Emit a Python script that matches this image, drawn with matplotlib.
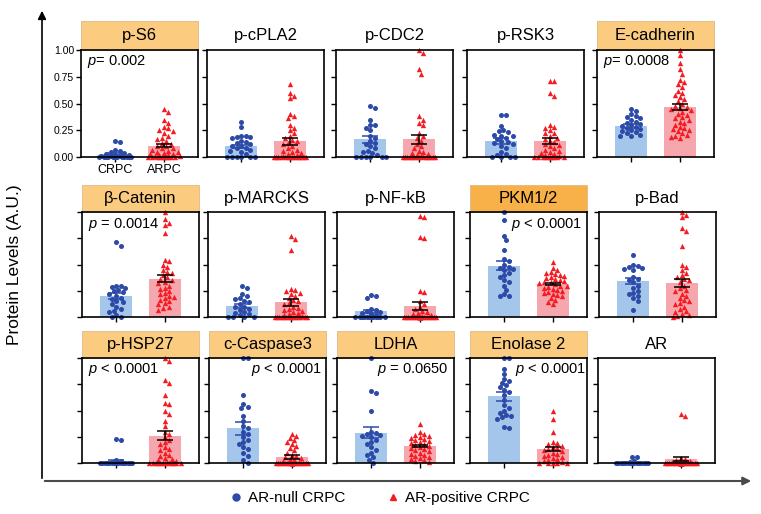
import numpy as np
import matplotlib
matplotlib.use('Agg')
import matplotlib.pyplot as plt
from matplotlib.patches import Rectangle
from matplotlib.lines import Line2D

plt.rcParams['font.family'] = ['Liberation Sans', 'DejaVu Sans']
plt.rcParams['mathtext.fontset'] = 'custom'
plt.rcParams['mathtext.it'] = 'Liberation Sans:italic'
plt.rcParams['mathtext.rm'] = 'Liberation Sans'

# ---------------- data ----------------
titles = ['p-S6', 'p-cPLA2', 'p-CDC2', 'p-RSK3', 'E-cadherin',
          'β-Catenin', 'p-MARCKS', 'p-NF-kB', 'PKM1/2', 'p-Bad',
          'p-HSP27', 'c-Caspase3', 'LDHA', 'Enolase 2', 'AR']
highlight = [1, 0, 0, 0, 1,
             1, 0, 0, 2, 0,
             1, 1, 1, 1, 0]
pvalue_labels = [r'$\it{p}$= 0.002', '', '', '', r'$\it{p}$= 0.0008',
                 r'$\it{p}$ = 0.0014', '', '', r'$\it{p}$ < 0.0001', '',
                 r'$\it{p}$ < 0.0001', r'$\it{p}$ < 0.0001', r'$\it{p}$ = 0.0650', r'$\it{p}$ < 0.0001', '']
group_labels = ['CRPC', 'ARPC']
legend_labels = ['AR-null CRPC', 'AR-positive CRPC']
y_ticks = [0.0, 0.25, 0.5, 0.75, 1.0]
y_ticklabels = ['0.00', '0.25', '0.50', '0.75', '1.00']

null_pS6 = [0.15, 0.14, 0.07, 0.06, 0.05, 0.04, 0.03, 0.02, 0.02, 0.01, 0.01, 0.01,
            0, 0, 0, 0, 0, 0, 0, 0, 0, 0, 0, 0]
pos_pS6 = [0.45, 0.42, 0.35, 0.32, 0.28, 0.27, 0.25, 0.24, 0.22, 0.20, 0.18, 0.17, 0.15,
           0.13, 0.12, 0.10, 0.10, 0.08, 0.08, 0.07, 0.06, 0.05, 0.05, 0.04, 0.03, 0.03,
           0.02, 0.02, 0.01, 0.01, 0, 0, 0, 0, 0, 0, 0, 0, 0, 0]
null_cPLA2 = [0.33, 0.28, 0.20, 0.20, 0.19, 0.19, 0.18, 0.15, 0.14, 0.13, 0.12, 0.10, 0.10,
              0.08, 0.08, 0.07, 0.06, 0.05, 0.03, 0, 0, 0, 0, 0, 0]
pos_cPLA2 = [0.68, 0.60, 0.57, 0.55, 0.40, 0.38, 0.36, 0.30, 0.27, 0.25, 0.22, 0.20, 0.18,
             0.16, 0.15, 0.13, 0.12, 0.10, 0.08, 0.07, 0.06, 0.05, 0.04, 0.03, 0.02, 0.01,
             0, 0, 0, 0, 0, 0, 0, 0, 0, 0, 0, 0, 0, 0]
null_CDC2 = [0.48, 0.46, 0.35, 0.30, 0.30, 0.27, 0.25, 0.20, 0.18, 0.15, 0.13, 0.12, 0.10,
             0.08, 0.06, 0.05, 0.04, 0.02, 0, 0, 0, 0, 0, 0]
pos_CDC2 = [1.0, 0.97, 0.82, 0.78, 0.38, 0.35, 0.32, 0.30, 0.22, 0.20, 0.18, 0.15, 0.12,
            0.10, 0.08, 0.06, 0.05, 0.04, 0.03, 0.02, 0.01,
            0, 0, 0, 0, 0, 0, 0, 0, 0, 0, 0, 0, 0, 0]
null_RSK3 = [0.39, 0.39, 0.29, 0.25, 0.24, 0.23, 0.21, 0.20, 0.20, 0.18, 0.17, 0.15, 0.14,
             0.13, 0.12, 0.10, 0.08, 0.05, 0.03, 0.02, 0, 0, 0, 0]
pos_RSK3 = [0.71, 0.71, 0.60, 0.57, 0.30, 0.28, 0.27, 0.25, 0.22, 0.22, 0.20, 0.18, 0.17,
            0.15, 0.14, 0.12, 0.11, 0.10, 0.08, 0.07, 0.06, 0.05, 0.04, 0.03, 0.02, 0.01,
            0, 0, 0, 0, 0, 0, 0, 0, 0, 0]
null_Ecad = [0.45, 0.43, 0.40, 0.38, 0.37, 0.36, 0.35, 0.33, 0.32, 0.31, 0.30, 0.29, 0.28,
             0.27, 0.26, 0.25, 0.24, 0.23, 0.22, 0.21, 0.20, 0.20]
pos_Ecad = [1.0, 0.95, 0.88, 0.82, 0.78, 0.72, 0.70, 0.68, 0.65, 0.62, 0.60, 0.58, 0.56,
            0.54, 0.52, 0.50, 0.48, 0.47, 0.46, 0.45, 0.44, 0.42, 0.40, 0.39, 0.37, 0.36,
            0.35, 0.33, 0.32, 0.30, 0.28, 0.27, 0.26, 0.25, 0.24, 0.22, 0.21, 0.20, 0.19, 0.18]
null_bCat = [0.71, 0.68, 0.30, 0.30, 0.29, 0.28, 0.26, 0.25, 0.24, 0.22, 0.20, 0.18, 0.17,
             0.15, 0.14, 0.12, 0.10, 0.08, 0.06, 0.05, 0.02, 0, 0]
pos_bCat = [1.0, 0.93, 0.90, 0.88, 0.80, 0.54, 0.53, 0.50, 0.48, 0.45, 0.43, 0.42, 0.40,
            0.38, 0.36, 0.35, 0.33, 0.32, 0.30, 0.28, 0.27, 0.25, 0.23, 0.22, 0.20, 0.19,
            0.18, 0.16, 0.15, 0.13, 0.12, 0.10, 0.09, 0.07]
null_MARCKS = [0.30, 0.28, 0.22, 0.20, 0.18, 0.17, 0.15, 0.14, 0.12, 0.10, 0.10, 0.08,
               0.07, 0.05, 0.04, 0.03, 0.02, 0, 0, 0, 0]
pos_MARCKS = [0.77, 0.74, 0.64, 0.27, 0.26, 0.25, 0.23, 0.22, 0.20, 0.18, 0.16, 0.15, 0.13,
              0.12, 0.10, 0.09, 0.08, 0.07, 0.06, 0.05, 0.04, 0.03, 0.02, 0.01,
              0, 0, 0, 0, 0, 0, 0, 0, 0, 0, 0, 0, 0, 0]
null_NFkB = [0.21, 0.20, 0.18, 0.08, 0.07, 0.06, 0.05, 0.04, 0.03, 0.02,
             0, 0, 0, 0, 0, 0, 0, 0, 0, 0, 0, 0]
pos_NFkB = [0.96, 0.95, 0.76, 0.75, 0.25, 0.24, 0.15, 0.12, 0.10, 0.08, 0.06, 0.05, 0.04,
            0.03, 0.02, 0.01, 0, 0, 0, 0, 0, 0, 0, 0, 0, 0, 0, 0, 0, 0, 0, 0, 0, 0, 0, 0, 0, 0]
null_PKM = [1.0, 0.92, 0.77, 0.73, 0.64, 0.55, 0.53, 0.50, 0.48, 0.47, 0.46, 0.45, 0.42,
            0.40, 0.38, 0.35, 0.33, 0.30, 0.26, 0.22, 0.20, 0.20]
pos_PKM = [0.52, 0.47, 0.45, 0.43, 0.42, 0.41, 0.40, 0.39, 0.38, 0.37, 0.36, 0.35, 0.34,
           0.33, 0.33, 0.32, 0.31, 0.30, 0.30, 0.29, 0.28, 0.27, 0.26, 0.25, 0.24, 0.23,
           0.22, 0.21, 0.20, 0.18, 0.16, 0.14, 0.12]
null_Bad = [0.59, 0.50, 0.49, 0.48, 0.47, 0.46, 0.45, 0.38, 0.36, 0.35, 0.33, 0.30, 0.28,
            0.25, 0.23, 0.22, 0.20, 0.18, 0.15, 0.07]
pos_Bad = [1.0, 0.97, 0.95, 0.85, 0.82, 0.68, 0.50, 0.48, 0.45, 0.42, 0.40, 0.38, 0.36,
           0.35, 0.33, 0.30, 0.28, 0.26, 0.25, 0.22, 0.20, 0.18, 0.16, 0.15, 0.13, 0.12,
           0.10, 0.08, 0.06, 0.05, 0.03, 0.02, 0.01, 0]
null_HSP27 = [0.23, 0.22, 0.03, 0.02, 0.01,
              0, 0, 0, 0, 0, 0, 0, 0, 0, 0, 0, 0, 0, 0, 0, 0, 0, 0]
pos_HSP27 = [1.0, 0.97, 0.79, 0.76, 0.65, 0.57, 0.56, 0.50, 0.47, 0.40, 0.35, 0.30, 0.28,
             0.25, 0.22, 0.20, 0.18, 0.15, 0.13, 0.12, 0.10, 0.08, 0.07, 0.05, 0.04, 0.03,
             0.02, 0.01, 0, 0, 0, 0, 0, 0, 0, 0, 0, 0, 0, 0]
null_Casp3 = [1.0, 1.0, 0.65, 0.56, 0.53, 0.52, 0.45, 0.40, 0.35, 0.33, 0.30, 0.28, 0.25,
              0.22, 0.20, 0.18, 0.15, 0.13, 0.10, 0.07, 0.03, 0]
pos_Casp3 = [0.28, 0.26, 0.24, 0.22, 0.20, 0.18, 0.16, 0.14, 0.12, 0.10, 0.08, 0.07, 0.06,
             0.05, 0.04, 0.03, 0.02, 0.01,
             0, 0, 0, 0, 0, 0, 0, 0, 0, 0, 0, 0, 0, 0, 0, 0, 0, 0, 0, 0]
null_LDHA = [1.0, 0.69, 0.67, 0.50, 0.30, 0.29, 0.28, 0.27, 0.26, 0.25, 0.22, 0.20, 0.18,
             0.15, 0.12, 0.10, 0.08, 0.06, 0.03, 0]
pos_LDHA = [0.37, 0.30, 0.28, 0.27, 0.26, 0.25, 0.24, 0.23, 0.22, 0.21, 0.20, 0.19, 0.18,
            0.17, 0.16, 0.15, 0.14, 0.13, 0.12, 0.11, 0.10, 0.09, 0.08, 0.07, 0.06, 0.05,
            0.04, 0.03, 0.02, 0.01]
null_Eno2 = [1.0, 1.0, 0.90, 0.85, 0.80, 0.78, 0.76, 0.74, 0.72, 0.70, 0.68, 0.65, 0.60,
             0.55, 0.52, 0.50, 0.48, 0.46, 0.45, 0.44, 0.42, 0.34, 0.33]
pos_Eno2 = [0.50, 0.42, 0.30, 0.20, 0.19, 0.18, 0.16, 0.15, 0.14, 0.13, 0.12, 0.11, 0.10,
            0.09, 0.08, 0.07, 0.06, 0.05, 0.04, 0.03, 0.02, 0.01, 0, 0, 0, 0, 0]
null_AR = [0.06, 0.06, 0.02, 0.01,
           0, 0, 0, 0, 0, 0, 0, 0, 0, 0, 0, 0, 0, 0, 0, 0, 0, 0]
pos_AR = [0.47, 0.45, 0.05, 0.04, 0.03, 0.02, 0.01,
          0, 0, 0, 0, 0, 0, 0, 0, 0, 0, 0, 0, 0, 0, 0, 0, 0, 0, 0, 0, 0, 0, 0, 0, 0, 0, 0, 0, 0, 0]

means_null = [0.025, 0.10, 0.165, 0.15, 0.29, 0.20, 0.105, 0.055, 0.49, 0.34, 0.02, 0.33, 0.29, 0.635, 0.01]
sems_null = [0.009, 0.015, 0.03, 0.025, 0.015, 0.03, 0.02, 0.015, 0.045, 0.03, 0.012, 0.06, 0.055, 0.045, 0.004]
means_pos = [0.105, 0.145, 0.165, 0.15, 0.47, 0.365, 0.14, 0.105, 0.315, 0.325, 0.26, 0.057, 0.16, 0.13, 0.04]
sems_pos = [0.015, 0.03, 0.04, 0.025, 0.03, 0.035, 0.033, 0.038, 0.012, 0.04, 0.043, 0.017, 0.012, 0.02, 0.02]

null_groups = [null_pS6, null_cPLA2, null_CDC2, null_RSK3, null_Ecad,
               null_bCat, null_MARCKS, null_NFkB, null_PKM, null_Bad,
               null_HSP27, null_Casp3, null_LDHA, null_Eno2, null_AR]
pos_groups = [pos_pS6, pos_cPLA2, pos_CDC2, pos_RSK3, pos_Ecad,
              pos_bCat, pos_MARCKS, pos_NFkB, pos_PKM, pos_Bad,
              pos_HSP27, pos_Casp3, pos_LDHA, pos_Eno2, pos_AR]

# ---------------- style / layout ----------------
W, H = 761, 514
BLUE_PT = '#2c4aa8'
BLUE_BAR = '#a3c6ea'
RED_PT = '#f41c22'
RED_BAR = '#f6a7ad'
ORANGE = '#fbcb80'
ORANGE_DARK = '#f8b048'
ptsz_px = 4.6

row_tops = [50, 212, 358]
row_heights = [107, 105, 105]
title_heights = [29, 27, 27]
col_lefts = [[81, 207, 336, 467, 597],
             [82, 208, 337, 470, 599],
             [82, 209, 337, 470, 598]]
panel_w = 117
XLIM = (-0.7, 1.7)
BAR_W = 0.66

p_pos = {0: ('left', 0.05), 4: ('left', 0.05), 5: ('left', 0.05), 8: ('right', 0.955),
         10: ('left', 0.05), 11: ('right', 0.965), 12: ('right', 0.955), 13: ('right', 0.995)}


def swarm_x(vals, center, px_x, px_y, d, halfw_px):
    vals = np.asarray(vals, dtype=float)
    xs = np.zeros(len(vals))
    placed = []
    step = d * 0.5
    nmax = int(halfw_px // step)
    cands = [0.0]
    for k in range(1, nmax + 1):
        cands += [k * step, -k * step]
    order = np.argsort(-vals, kind='stable')
    for i in order:
        y = vals[i] * px_y
        best_off, best_score = 0.0, -1.0
        for off in cands:
            if placed:
                arr = np.array(placed)
                md = np.min(np.hypot(arr[:, 0] - off, arr[:, 1] - y))
            else:
                md = np.inf
            if md >= d * 0.95:
                best_off = off
                break
            if md > best_score + 0.3:
                best_score, best_off = md, off
        placed.append((best_off, y))
        xs[i] = center + best_off / px_x
    return xs


fig = plt.figure(figsize=(W / 100, H / 100), dpi=100)

for idx in range(15):
    r, c = divmod(idx, 5)
    left = col_lefts[r][c]
    top = row_tops[r]
    h = row_heights[r]
    ax = fig.add_axes([left / W, 1 - (top + h) / H, panel_w / W, h / H])
    ax.set_xlim(*XLIM)
    ax.set_ylim(0, 1.0)
    px_x = panel_w / (XLIM[1] - XLIM[0])
    px_y = h / 1.0

    ax.bar([0, 1], [means_null[idx], means_pos[idx]], width=BAR_W,
           color=[BLUE_BAR, RED_BAR], zorder=1)

    xn = swarm_x(null_groups[idx], 0, px_x, px_y, ptsz_px, BAR_W / 2 * px_x + 2)
    xp = swarm_x(pos_groups[idx], 1, px_x, px_y, ptsz_px, BAR_W / 2 * px_x + 2)
    ax.scatter(xn, null_groups[idx], s=13, marker='o', color=BLUE_PT,
               linewidths=0, zorder=2, clip_on=False)
    ax.scatter(xp, pos_groups[idx], s=15, marker='^', color=RED_PT,
               linewidths=0, zorder=2, clip_on=False)

    ax.errorbar([0], [means_null[idx]], yerr=[sems_null[idx]], fmt='none',
                ecolor=BLUE_PT, elinewidth=1.1, capsize=6, capthick=1.1, zorder=3)
    ax.errorbar([1], [means_pos[idx]], yerr=[sems_pos[idx]], fmt='none',
                ecolor='black', elinewidth=1.1, capsize=6, capthick=1.1, zorder=3)

    for sp in ax.spines.values():
        sp.set_linewidth(1.2)
        sp.set_zorder(4)
    ax.set_yticks(y_ticks)
    ax.set_xticks([0, 1])
    ax.tick_params(axis='both', direction='out', length=3.5, width=1.0, pad=1.5)
    if idx == 0:
        ax.set_yticklabels(y_ticklabels, fontsize=7.5)
        ax.set_xticklabels(group_labels, fontsize=9)
    else:
        ax.set_yticklabels([])
        ax.set_xticklabels([])

    th = title_heights[r] / h
    if highlight[idx]:
        ax.add_patch(Rectangle((0, 1), 1, th, transform=ax.transAxes,
                               facecolor=ORANGE_DARK if highlight[idx] == 2 else ORANGE,
                               edgecolor='#d8b27a', linewidth=0.5, clip_on=False, zorder=0))
    ax.text(0.5, 1 + th / 2, titles[idx], transform=ax.transAxes, ha='center',
            va='center', fontsize=12)

    if pvalue_labels[idx]:
        ha, px = p_pos[idx]
        ax.text(px, 1 - 12 / h, pvalue_labels[idx], transform=ax.transAxes,
                ha=ha, va='center', fontsize=10.5, zorder=5)

# big axis arrows
fig.patches.append(matplotlib.patches.FancyArrowPatch(
    (42 / W, 1 - 481 / H), (42 / W, 1 - 8 / H), transform=fig.transFigure,
    arrowstyle='-|>', mutation_scale=12, color='black', linewidth=1.2))
fig.patches.append(matplotlib.patches.FancyArrowPatch(
    (42 / W, 1 - 481 / H), (754 / W, 1 - 481 / H), transform=fig.transFigure,
    arrowstyle='-|>', mutation_scale=12, color='#4a4a4a', linewidth=1.5))

fig.text(15 / W, 1 - 265 / H, 'Protein Levels (A.U.)', rotation=90,
         ha='center', va='center', fontsize=12.5)

handles = [Line2D([], [], marker='o', color=BLUE_PT, linestyle='none', markersize=5),
           Line2D([], [], marker='^', color=RED_PT, linestyle='none', markersize=5)]
fig.legend(handles, legend_labels, ncol=2, loc='center left',
           bbox_to_anchor=(222 / W, 1 - 498 / H), frameon=False, fontsize=11,
           handlelength=1.0, handletextpad=0.3, columnspacing=2.6, borderaxespad=0)

fig.savefig('out.png', dpi=100)
